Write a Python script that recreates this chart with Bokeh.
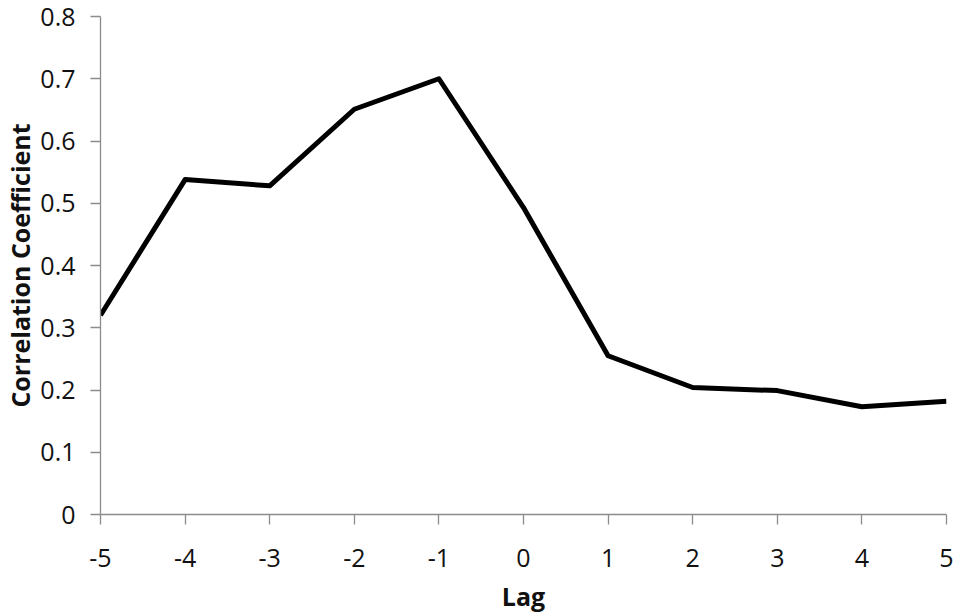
from bokeh.plotting import figure
from bokeh.models import FixedTicker, Range1d
from bokeh.embed import file_html
from bokeh.resources import INLINE

lags = [-5, -4, -3, -2, -1, 0, 1, 2, 3, 4, 5]
corr = [0.320, 0.538, 0.528, 0.651, 0.700, 0.493, 0.255, 0.204, 0.199, 0.173, 0.182]

x_ticks = [-5, -4, -3, -2, -1, 0, 1, 2, 3, 4, 5]
x_tick_labels = ["-5", "-4", "-3", "-2", "-1", "0", "1", "2", "3", "4", "5"]
y_ticks = [0, 0.1, 0.2, 0.3, 0.4, 0.5, 0.6, 0.7, 0.8]
y_tick_labels = ["0", "0.1", "0.2", "0.3", "0.4", "0.5", "0.6", "0.7", "0.8"]

FONT = "Open Sans"
AXIS_COLOR = "#8c8c8c"

p = figure(width=956, height=615, output_backend="svg", toolbar_location=None,
           x_range=Range1d(-5, 5), y_range=Range1d(0, 0.8),
           min_border_left=100, min_border_right=10, min_border_top=16, min_border_bottom=100)

p.line(lags, corr, line_color="black", line_width=5, line_join="round")

p.outline_line_color = None
p.xgrid.visible = False
p.ygrid.visible = False
p.background_fill_color = "white"
p.border_fill_color = "white"

for ax in (p.xaxis[0], p.yaxis[0]):
    ax.axis_line_color = AXIS_COLOR
    ax.axis_line_width = 1.3
    ax.major_tick_line_color = AXIS_COLOR
    ax.major_tick_line_width = 1.3
    ax.major_tick_in = 0
    ax.major_tick_out = 10
    ax.minor_tick_line_color = None
    ax.major_label_text_font = FONT
    ax.major_label_text_font_size = "25px"
    ax.major_label_text_color = "#111111"
    ax.axis_label_text_font = FONT
    ax.axis_label_text_font_size = "25px"
    ax.axis_label_text_font_style = "bold"
    ax.axis_label_text_color = "#111111"

p.xaxis[0].ticker = FixedTicker(ticks=x_ticks)
p.xaxis[0].major_label_overrides = {t: l for t, l in zip(x_ticks, x_tick_labels)}
p.xaxis[0].major_label_standoff = 24
p.xaxis[0].axis_label = "Lag"
p.xaxis[0].axis_label_standoff = 9

p.yaxis[0].ticker = FixedTicker(ticks=y_ticks)
p.yaxis[0].major_label_overrides = {t: l for t, l in zip(y_ticks, y_tick_labels)}
p.yaxis[0].major_label_standoff = 15
p.yaxis[0].axis_label = "Correlation Coefficient"
p.yaxis[0].axis_label_standoff = 0

open("out.html", "w").write(file_html(p, INLINE))
